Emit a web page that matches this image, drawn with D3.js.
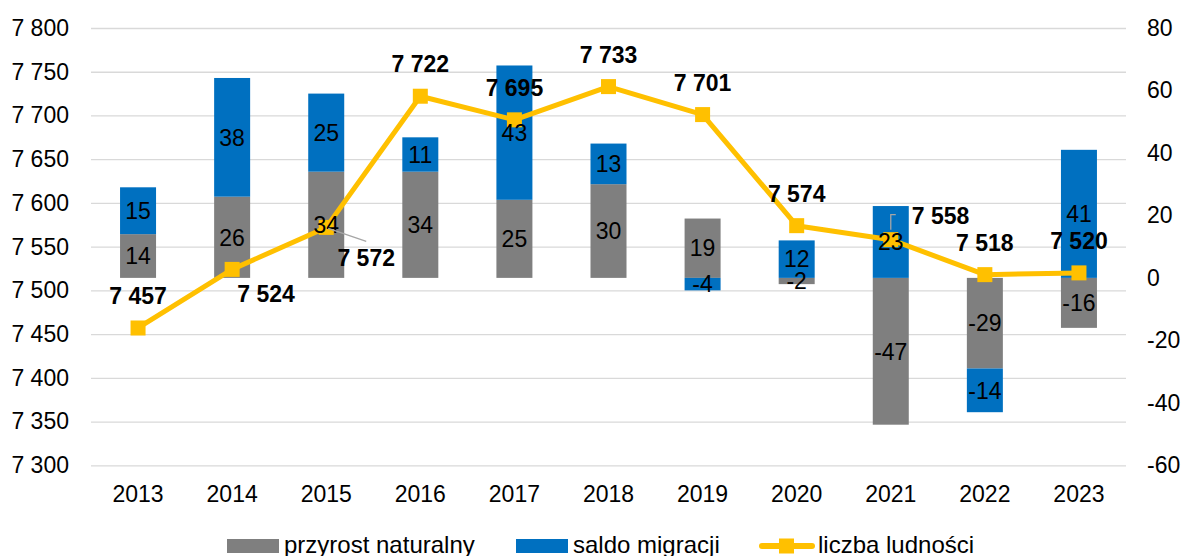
<!DOCTYPE html>
<html>
<head>
<meta charset="utf-8">
<script src="https://cdn.jsdelivr.net/npm/d3@7"></script>
<style>
  body { margin: 0; background: #fff; }
  svg { display: block; font-family: "Liberation Sans", Arial, sans-serif; }
</style>
</head>
<body>
<div id="chart"></div>
<script>
var years = ['2013', '2014', '2015', '2016', '2017', '2018', '2019', '2020', '2021', '2022', '2023'];
var naturalIncrease = [14, 26, 34, 34, 25, 30, 19, -2, -47, -29, -16];
var migration = [15, 38, 25, 11, 43, 13, -4, 12, 23, -14, 41];
var population = [7457, 7524, 7572, 7722, 7695, 7733, 7701, 7574, 7558, 7518, 7520];
var leftTicks = [7300, 7350, 7400, 7450, 7500, 7550, 7600, 7650, 7700, 7750, 7800];
var rightTicks = [-60, -40, -20, 0, 20, 40, 60, 80];
var seriesNames = ['przyrost naturalny', 'saldo migracji', 'liczba ludności'];

// hand placed line labels (dx, dy from point, anchor), like the original
var lineLabelPos = {
  '2014': { dx: 34, dy: 33, anchor: 'middle' },
  '2015': { dx: 40, dy: 39, anchor: 'middle', leader: [[2, 1], [40, 14]] },
  '2021': { dx: 21, dy: -16, anchor: 'start', leader: [[0, -10], [0, -25], [5, -25]] }
};

var W = 1184, H = 556;
var plot = { left: 91, right: 1126, top: 28, bottom: 465.3 };
var colors = ['#7f7f7f', '#0070c0', '#ffc000'];
var fontSize = 23;

var fmt = d3.formatLocale({ decimal: ',', thousands: ' ', grouping: [3], currency: ['', ''], minus: '-' }).format(',');

var svg = d3.select('#chart')
  .append('svg')
  .attr('width', W)
  .attr('height', H);

var x = d3.scaleBand()
  .domain(years)
  .range([plot.left, plot.right]);

var yLeft = d3.scaleLinear()
  .domain([7300, 7800])
  .range([plot.bottom, plot.top]);

var yRight = d3.scaleLinear()
  .domain([-60, 80])
  .range([plot.bottom, plot.top]);

//grid + left axis
var axisL = d3.axisLeft(yLeft)
  .tickValues(leftTicks)
  .tickSize(-(plot.right - plot.left))
  .tickPadding(22)
  .tickFormat(function (d) { return fmt(d); });

var gL = svg.append('g')
  .attr('transform', 'translate(' + plot.left + ',0)')
  .call(axisL);
gL.select('.domain').remove();
gL.selectAll('line').attr('stroke', '#d9d9d9').attr('stroke-width', 1.3);
gL.selectAll('text')
  .attr('font-size', fontSize)
  .attr('fill', '#000')
  .attr('font-family', null);

//right axis
var axisR = d3.axisRight(yRight)
  .tickValues(rightTicks)
  .tickSize(0)
  .tickPadding(21)
  .tickFormat(function (d) { return String(d); });

var gR = svg.append('g')
  .attr('transform', 'translate(' + plot.right + ',0)')
  .call(axisR);
gR.select('.domain').remove();
gR.selectAll('text')
  .attr('font-size', fontSize)
  .attr('fill', '#000')
  .attr('font-family', null);

//x axis labels
svg.append('g')
  .selectAll('text')
  .data(years).enter()
  .append('text')
  .attr('x', function (d) { return x(d) + x.bandwidth() / 2; })
  .attr('y', 501.5)
  .attr('text-anchor', 'middle')
  .attr('font-size', fontSize)
  .text(function (d) { return d; });

//stacked bars
var rows = years.map(function (y, i) {
  return { year: y, nat: naturalIncrease[i], mig: migration[i] };
});
var stack = d3.stack()
  .keys(['nat', 'mig'])
  .offset(d3.stackOffsetDiverging);
var layers = stack(rows);
var barW = 36;

var gBars = svg.append('g');
gBars.selectAll('g')
  .data(layers).enter()
  .append('g')
  .attr('fill', function (d, i) { return colors[i]; })
  .selectAll('rect')
  .data(function (d) { return d; }).enter()
  .append('rect')
  .attr('x', function (d) { return x(d.data.year) + x.bandwidth() / 2 - barW / 2; })
  .attr('width', barW)
  .attr('y', function (d) { return yRight(Math.max(d[0], d[1])); })
  .attr('height', function (d) { return Math.abs(yRight(d[0]) - yRight(d[1])); });

//line
var line = d3.line()
  .x(function (d, i) { return x(years[i]) + x.bandwidth() / 2; })
  .y(function (d) { return yLeft(d); });

svg.append('path')
  .attr('d', line(population))
  .attr('fill', 'none')
  .attr('stroke', colors[2])
  .attr('stroke-width', 5)
  .attr('stroke-linejoin', 'round');

svg.append('g')
  .selectAll('rect')
  .data(population).enter()
  .append('rect')
  .attr('x', function (d, i) { return x(years[i]) + x.bandwidth() / 2 - 7.5; })
  .attr('y', function (d) { return yLeft(d) - 7.5; })
  .attr('width', 15)
  .attr('height', 15)
  .attr('fill', colors[2]);

//bar labels
var gBarLabels = svg.append('g');
layers.forEach(function (layer) {
  gBarLabels.selectAll(null)
    .data(layer).enter()
    .append('text')
    .attr('x', function (d) { return x(d.data.year) + x.bandwidth() / 2; })
    .attr('y', function (d) { return yRight((d[0] + d[1]) / 2); })
    .attr('dy', '0.36em')
    .attr('text-anchor', 'middle')
    .attr('font-size', fontSize)
    .text(function (d) { return d.data[layer.key]; });
});

//line labels
var gLineLabels = svg.append('g');
population.forEach(function (v, i) {
  var px = x(years[i]) + x.bandwidth() / 2;
  var py = yLeft(v);
  var pos = lineLabelPos[years[i]] || { dx: 0, dy: -24, anchor: 'middle' };
  if (pos.leader) {
    var pts = pos.leader.map(function (p) { return [px + p[0], py + p[1]]; });
    gLineLabels.append('path')
      .attr('d', d3.line()(pts))
      .attr('fill', 'none')
      .attr('stroke', '#a6a6a6')
      .attr('stroke-width', 1.3);
  }
  gLineLabels.append('text')
    .attr('x', px + pos.dx)
    .attr('y', py + pos.dy)
    .attr('text-anchor', pos.anchor)
    .attr('font-size', fontSize)
    .attr('font-weight', 'bold')
    .text(fmt(v));
});

//legend
var legend = svg.append('g');
var legY = 546;
legend.append('rect').attr('x', 227).attr('y', legY - 7).attr('width', 52).attr('height', 14).attr('fill', colors[0]);
legend.append('text').attr('x', 284).attr('y', 552.5).attr('font-size', 24).text(seriesNames[0]);
legend.append('rect').attr('x', 516).attr('y', legY - 7).attr('width', 52).attr('height', 14).attr('fill', colors[1]);
legend.append('text').attr('x', 573).attr('y', 552.5).attr('font-size', 24).text(seriesNames[1]);
legend.append('line')
  .attr('x1', 762).attr('x2', 812).attr('y1', legY).attr('y2', legY)
  .attr('stroke', colors[2]).attr('stroke-width', 6).attr('stroke-linecap', 'round');
legend.append('rect').attr('x', 779).attr('y', legY - 7.5).attr('width', 15).attr('height', 15).attr('fill', colors[2]);
legend.append('text').attr('x', 818).attr('y', 552.5).attr('font-size', 24).text(seriesNames[2]);
</script>
</body>
</html>
